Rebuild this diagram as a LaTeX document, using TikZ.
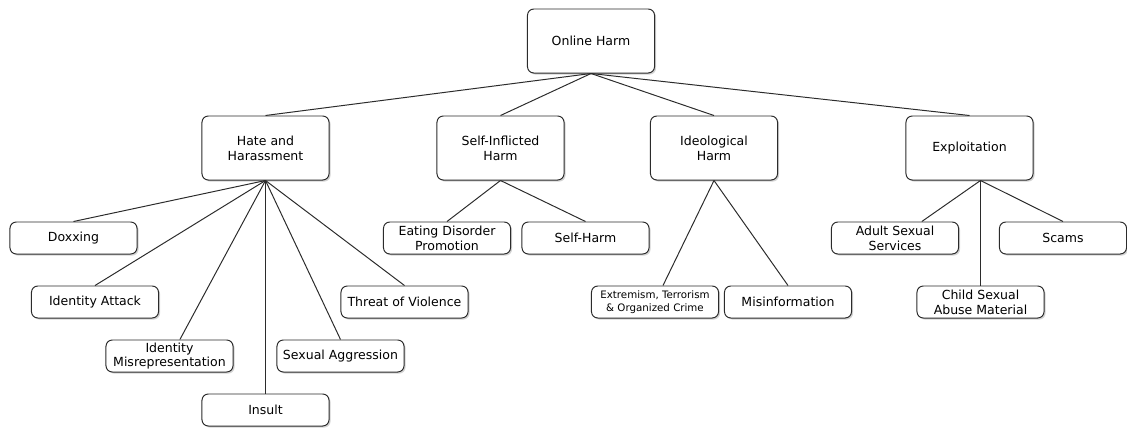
\documentclass[tikz,border=0pt]{standalone}
\usepackage{fontspec}
\setmainfont{DejaVu Sans}
\usetikzlibrary{shadows}
\definecolor{linegray}{HTML}{2B2B2B}
\begin{document}
\begin{tikzpicture}[x=0.025cm, y=-0.025cm,
	category/.style={draw=linegray, rectangle, rounded corners=4.5pt, fill=white, line width=0.7pt, minimum width=3.175cm, minimum height=1.6cm, align=center, font=\fontsize{8.9}{10.5}\selectfont, drop shadow={shadow xshift=1.1pt, shadow yshift=-1.1pt, opacity=0.35, fill=gray}},
	leaf/.style={category, minimum height=0.8cm, inner sep=1pt}]
	\useasboundingbox (0, 0) rectangle (1127, 429);
	\node[category] (Online Harm) at (591, 41) {Online Harm};
	\node[category] (Hate and Harassment) at (265.5, 148) {Hate and\\Harassment};
	\node[category] (Self-Inflicted Harm) at (500.5, 148) {Self-Inflicted\\Harm};
	\node[category] (Ideological Harm) at (714, 148) {Ideological\\Harm};
	\node[category] (Exploitation) at (969.5, 148) {Exploitation};
	\node[leaf] (Doxxing) at (73.5, 238) {Doxxing};
	\node[leaf] (Identity Attack) at (95, 302) {Identity Attack};
	\node[leaf] (Identity Misrepresentation) at (169.5, 356) {Identity\\Misrepresentation};
	\node[leaf] (Insult) at (265.5, 410) {Insult};
	\node[leaf] (Sexual Aggression) at (340.5, 356) {Sexual Aggression};
	\node[leaf] (Threat of Violence) at (404.5, 302) {Threat of Violence};
	\node[leaf] (Eating Disorder Promotion) at (447, 238) {Eating Disorder\\Promotion};
	\node[leaf] (Self-Harm) at (585.5, 238) {Self-Harm};
	\node[leaf, font=\fontsize{7.3}{9.5}\selectfont] (Extremism) at (655, 302) {Extremism, Terrorism\\\& Organized Crime};
	\node[leaf] (Misinformation) at (788, 302) {Misinformation};
	\node[leaf] (Adult Sexual Services) at (895, 238) {Adult Sexual\\Services};
	\node[leaf] (Scams) at (1063, 238) {Scams};
	\node[leaf] (Child Sexual Abuse Material) at (980.5, 302) {Child Sexual\\Abuse Material};
	\coordinate (Exploitation hub) at (Child Sexual Abuse Material.north |- Exploitation.south);
	\begin{scope}[draw=linegray, line width=0.7pt]
	\draw (Online Harm.south) -- (Hate and Harassment.north);
	\draw (Online Harm.south) -- (Self-Inflicted Harm.north);
	\draw (Online Harm.south) -- (Ideological Harm.north);
	\draw (Online Harm.south) -- (Exploitation.north);
	\draw (Hate and Harassment.south) -- (Doxxing.north);
	\draw (Hate and Harassment.south) -- (Identity Attack.north);
	\draw (Hate and Harassment.south) -- ([xshift=0.26cm]Identity Misrepresentation.north);
	\draw (Hate and Harassment.south) -- (Insult.north);
	\draw (Hate and Harassment.south) -- (Sexual Aggression.north);
	\draw (Hate and Harassment.south) -- (Threat of Violence.north);
	\draw (Self-Inflicted Harm.south) -- (Eating Disorder Promotion.north);
	\draw (Self-Inflicted Harm.south) -- (Self-Harm.north);
	\draw (Ideological Harm.south) -- ([xshift=0.2cm]Extremism.north);
	\draw (Ideological Harm.south) -- (Misinformation.north);
	\draw (Exploitation hub) -- ([xshift=0.67cm]Adult Sexual Services.north);
	\draw (Exploitation hub) -- (Child Sexual Abuse Material.north);
	\draw (Exploitation hub) -- (Scams.north);
	\end{scope}
\end{tikzpicture}
\end{document}
